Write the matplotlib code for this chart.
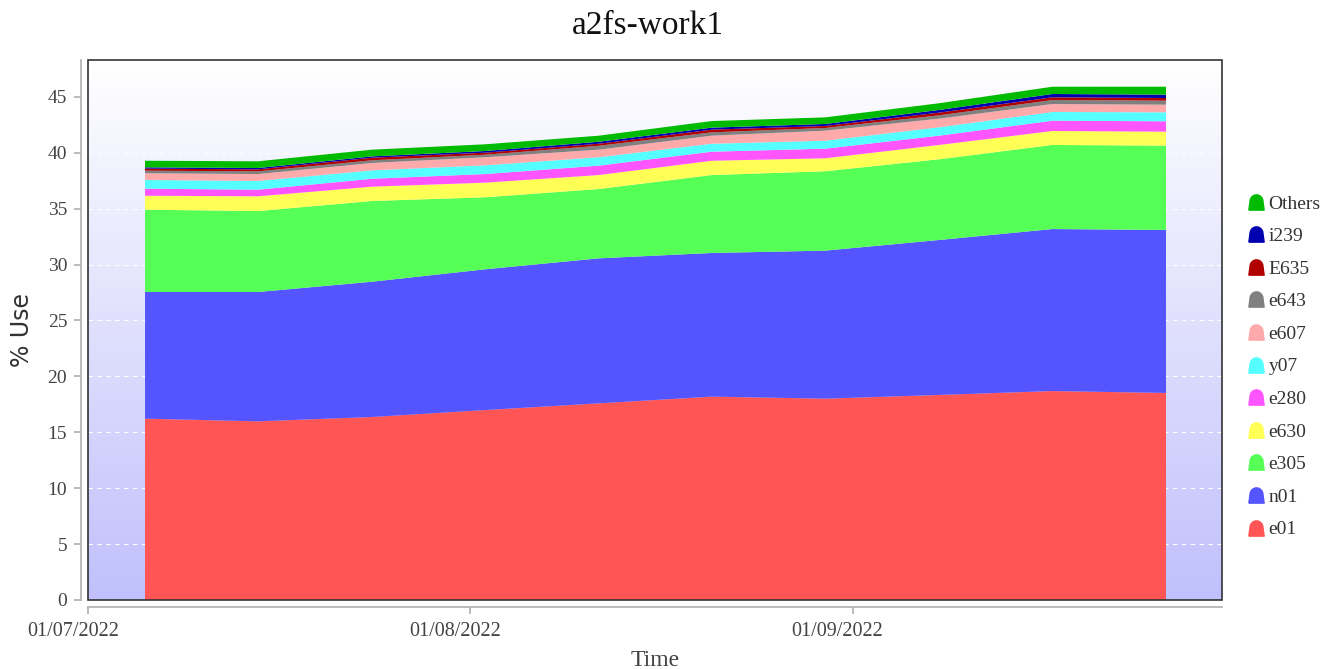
import numpy as np
import pandas as pd
import matplotlib
matplotlib.use("Agg")
import matplotlib.pyplot as plt
import matplotlib.dates as mdates
import matplotlib.transforms as mtransforms
from matplotlib.path import Path
from matplotlib.lines import Line2D
from matplotlib.patches import Rectangle

# sample times (roughly every 9 days)
dates = pd.to_datetime(["2022-07-05 15:00", "2022-07-14 19:00", "2022-07-24 01:00",
                        "2022-08-02 05:00", "2022-08-11 10:00", "2022-08-20 14:00",
                        "2022-08-29 19:00", "2022-09-08 00:00", "2022-09-17 05:00",
                        "2022-09-26 10:00"])

# % use per user, bottom of stack first
e01 = [16.22, 15.98, 16.37, 16.99, 17.59, 18.19, 18.01, 18.34, 18.69, 18.52]
n01 = [11.33, 11.57, 12.10, 12.59, 12.97, 12.85, 13.24, 13.86, 14.49, 14.58]
e305 = [7.36, 7.24, 7.22, 6.44, 6.20, 6.97, 7.10, 7.22, 7.52, 7.54]
e630 = [1.25, 1.32, 1.28, 1.31, 1.25, 1.28, 1.16, 1.28, 1.25, 1.25]
e280 = [0.63, 0.59, 0.71, 0.77, 0.84, 0.81, 0.86, 0.83, 0.92, 0.93]
y07 = [0.78, 0.78, 0.75, 0.78, 0.75, 0.71, 0.71, 0.75, 0.78, 0.80]
e607 = [0.60, 0.62, 0.66, 0.72, 0.68, 0.72, 0.90, 0.77, 0.71, 0.68]
e643 = [0.23, 0.24, 0.24, 0.23, 0.35, 0.30, 0.24, 0.30, 0.36, 0.36]
E635 = [0.18, 0.18, 0.23, 0.18, 0.18, 0.24, 0.18, 0.24, 0.24, 0.24]
i239 = [0.12, 0.12, 0.12, 0.15, 0.18, 0.18, 0.18, 0.24, 0.30, 0.30]
others = [0.59, 0.60, 0.60, 0.60, 0.54, 0.59, 0.59, 0.60, 0.65, 0.71]

labels = ["e01", "n01", "e305", "e630", "e280", "y07", "e607", "e643", "E635", "i239", "Others"]
series = [e01, n01, e305, e630, e280, y07, e607, e643, E635, i239, others]
colors = ["#ff5555", "#5555ff", "#55ff55", "#ffff55", "#ff55ff", "#55ffff",
          "#ffaaaa", "#808080", "#b00000", "#0000b0", "#00bb00"]

fig = plt.figure(figsize=(13.25, 6.69), dpi=100)
ax = fig.add_axes([88/1325, 69/669, 1134/1325, 540/669])

# background gradient white -> lavender
grad = np.linspace(0, 1, 256).reshape(-1, 1)
cmap = matplotlib.colors.LinearSegmentedColormap.from_list("bg", ["#c0c0fc", "#ffffff"])
ax.imshow(grad, extent=[0, 1, 0, 1], transform=ax.transAxes, origin="lower",
          cmap=cmap, aspect="auto", zorder=0)

ax.stackplot(dates, *series, colors=colors, labels=labels, linewidth=0, zorder=2)

ax.set_xlim(pd.Timestamp("2022-07-01"), pd.Timestamp("2022-09-30 23:00"))
ax.set_ylim(0, 48.3)
ax.set_yticks(range(0, 50, 5))
ax.xaxis.set_major_locator(mdates.MonthLocator())
ax.xaxis.set_major_formatter(mdates.DateFormatter("%d/%m/%Y"))
ax.yaxis.grid(True, color="white", linestyle=(0, (4, 4)), linewidth=0.8, zorder=1)
ax.set_axisbelow(True)

for s in ["top", "right"]:
    ax.spines[s].set_visible(False)
for s in ["left", "bottom"]:
    ax.spines[s].set_position(("outward", 5))
    ax.spines[s].set_color("#b0b0b0")
    ax.spines[s].set_linewidth(1.2)
ax.add_patch(Rectangle((0, 0), 1, 1, transform=ax.transAxes, fill=False,
                       edgecolor="#333333", linewidth=1.2, zorder=5, clip_on=False))
ax.tick_params(axis="both", colors="#b0b0b0", labelcolor="#444444",
               length=5, width=1.2)
ax.tick_params(axis="x", labelsize=14.5, pad=6)
ax.tick_params(axis="y", labelsize=14, pad=5)
shift = mtransforms.ScaledTranslation(-15/100, 0, fig.dpi_scale_trans)
for lab in ax.get_xticklabels():
    lab.set_fontfamily("Liberation Serif")
    lab.set_transform(lab.get_transform() + shift)
for lab in ax.get_yticklabels():
    lab.set_fontfamily("Liberation Serif")

fig.text(648/1325, 1 - 26/669, "a2fs-work1", fontsize=24, fontfamily="Liberation Serif",
         color="#111111", ha="center", va="center")
ax.set_xlabel("Time", fontsize=17, fontfamily="Liberation Serif", color="#444444", labelpad=6)
ax.set_ylabel("% Use", fontsize=17, fontfamily="DejaVu Sans", color="#333333", labelpad=10)

# dome-shaped legend marker
arc = [(0.85 * np.cos(t), 0.1 + 0.9 * np.sin(t)) for t in np.linspace(0, np.pi, 20)]
verts = [(-1, -1), (1, -1)] + arc + [(-1, -1)]
dome = Path(verts)
handles = [Line2D([], [], marker=dome, linestyle="none", markersize=11,
                  markerfacecolor=c, markeredgecolor=c) for c in colors]
leg = fig.legend(handles[::-1], labels[::-1], loc="center left",
                 bbox_to_anchor=(1245/1325, 0.452), frameon=False,
                 prop={"family": "Liberation Serif", "size": 14},
                 labelspacing=0.77, handlelength=0.7, handletextpad=0.3,
                 borderpad=0.2, borderaxespad=0)
for t in leg.get_texts():
    t.set_color("#333333")

fig.savefig("out.png", dpi=100)
